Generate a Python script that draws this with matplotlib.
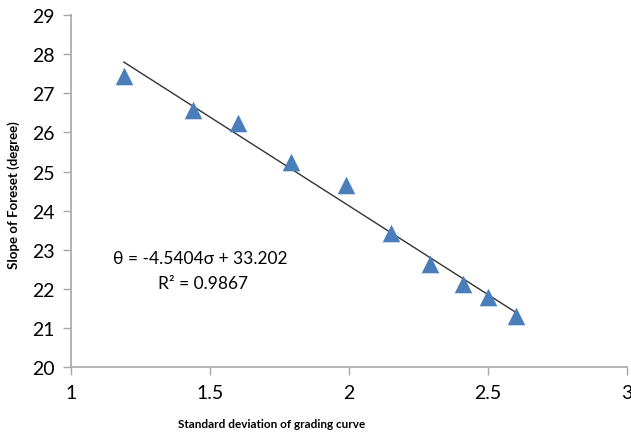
import matplotlib
matplotlib.use("Agg")
import matplotlib.pyplot as plt
import numpy as np

# data
sigma = [1.19, 1.44, 1.60, 1.79, 1.99, 2.15, 2.29, 2.41, 2.50, 2.60]
slope = [27.44, 26.57, 26.24, 25.24, 24.65, 23.43, 22.63, 22.12, 21.79, 21.30]
fit_a = -4.5404
fit_b = 33.202
xticks = [1, 1.5, 2, 2.5, 3]
xticklabels = ["1", "1.5", "2", "2.5", "3"]
yticks = list(range(20, 30))

narrow = ["Lato", "DejaVu Sans"]
grey = "#a6a6a6"

fig = plt.figure(figsize=(6.31, 4.35), dpi=100)
ax = fig.add_axes([0.1125, 0.154, 0.8812, 0.809])

ax.scatter(sigma, slope, marker="^", s=160, color="#4a7ebb", zorder=3, linewidths=0)

xs = np.array([sigma[0], sigma[-1]])
ax.plot(xs, fit_a * xs + fit_b, color="#333333", lw=1.0, zorder=2)

ax.set_xlim(1, 3)
ax.set_ylim(20, 29)
ax.set_xticks(xticks)
ax.set_xticklabels(xticklabels)
ax.set_yticks(yticks)

for s in ["top", "right"]:
    ax.spines[s].set_visible(False)
for s in ["left", "bottom"]:
    ax.spines[s].set_color(grey)
    ax.spines[s].set_linewidth(1.2)
ax.tick_params(direction="out", length=6, width=1.0, color=grey, labelsize=14, pad=6)
for lab in ax.get_xticklabels() + ax.get_yticklabels():
    lab.set_family(narrow)

fig.text(272 / 631, 1 - 425 / 435, "Standard deviation of grading curve", ha="center", va="center",
         family=narrow, fontweight="bold", fontsize=8.5)
fig.text(14 / 631, 1 - 195 / 435, "Slope of Foreset (degree)", ha="center", va="center",
         rotation=90, family=narrow, fontweight="bold", fontsize=9.5)

fig.text(200 / 631, 1 - 259 / 435, "θ = -4.5404σ + 33.202", ha="center", va="center",
         family=["Lato", "DejaVu Sans"], fontsize=12.5)
fig.text(203 / 631, 1 - 284 / 435, "R² = 0.9867", ha="center", va="center",
         family=["Lato", "DejaVu Sans"], fontsize=12.5)

fig.savefig("out.png", dpi=100)
